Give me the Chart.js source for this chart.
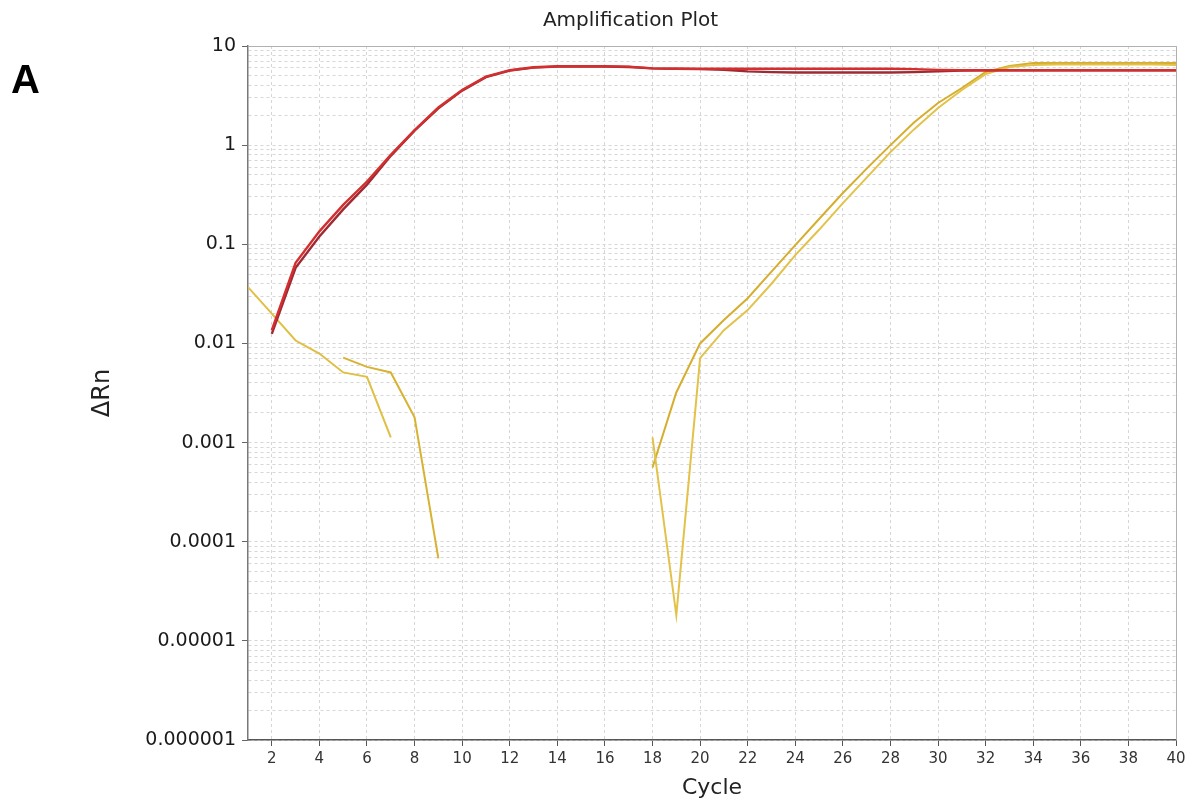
<!DOCTYPE html>
<html>
<head>
<meta charset="utf-8">
<script src="https://cdn.jsdelivr.net/npm/chart.js@4.4.1/dist/chart.umd.min.js"></script>
<style>
  html, body { margin: 0; padding: 0; background: #ffffff; }
  #wrap { position: relative; width: 1200px; height: 807px; }
  #panel { position: absolute; left: 11px; top: 56px; line-height: 46px; font-family: "Liberation Sans", Arial, sans-serif; font-weight: bold; font-size: 40px; color: #000; }
</style>
</head>
<body>
<div id="wrap">
  <canvas id="c" width="1200" height="807"></canvas>
  <div id="panel">A</div>
</div>
<script>
// ---- data ----
const CYCLES = [1,2,3,4,5,6,7,8,9,10,11,12,13,14,15,16,17,18,19,20,21,22,23,24,25,26,27,28,29,30,31,32,33,34,35,36,37,38,39,40];

const RED_1 = [null,0.0136,0.065,0.135,0.25,0.43,0.80,1.42,2.4,3.6,4.9,5.7,6.1,6.25,6.25,6.25,6.2,5.95,5.9,5.9,5.9,5.9,5.9,5.9,5.9,5.9,5.9,5.9,5.85,5.75,5.7,5.7,5.7,5.7,5.7,5.7,5.7,5.7,5.7,5.7];
const RED_2 = [null,0.0125,0.058,0.12,0.225,0.40,0.78,1.40,2.35,3.55,4.85,5.65,6.05,6.2,6.2,6.2,6.15,5.95,5.9,5.85,5.75,5.55,5.45,5.4,5.4,5.4,5.4,5.4,5.45,5.55,5.65,5.7,5.7,5.7,5.7,5.7,5.7,5.7,5.7,5.7];

const YEL_A = [0.037,0.020,0.0107,0.0079,0.0051,0.0046,0.00113,null,null,null,null,null,null,null,null,null,null,null,null,null,null,null,null,null,null,null,null,null,null,null,null,null,null,null,null,null,null,null,null,null];
const YEL_B = [null,null,null,null,0.0072,0.0058,0.0051,0.0018,0.000068,null,null,null,null,null,null,null,null,null,null,null,null,null,null,null,null,null,null,null,null,null,null,null,null,null,null,null,null,null,null,null];
const YEL_C = [null,null,null,null,null,null,null,null,null,null,null,null,null,null,null,null,null,0.00113,0.0000182,0.0071,0.0136,0.0217,0.040,0.0778,0.14,0.26,0.47,0.85,1.45,2.37,3.6,5.2,6.14,6.43,6.5,6.5,6.5,6.5,6.5,6.45];
const YEL_D = [null,null,null,null,null,null,null,null,null,null,null,null,null,null,null,null,null,0.00056,0.0032,0.0100,0.0172,0.0286,0.053,0.098,0.18,0.329,0.58,1.0,1.7,2.66,3.77,5.47,6.28,6.73,6.75,6.75,6.75,6.75,6.75,6.75];

const X_TICK_VALUES = [2,4,6,8,10,12,14,16,18,20,22,24,26,28,30,32,34,36,38,40];
const Y_TICK_VALUES = [0.000001,0.00001,0.0001,0.001,0.01,0.1,1,10];
const Y_TICK_LABELS = ['0.000001','0.00001','0.0001','0.001','0.01','0.1','1','10'];

// ---- build ----
function pts(arr) { return CYCLES.map((c, i) => ({ x: c, y: arr[i] })); }

const yTicks = [];
Y_TICK_VALUES.forEach((v, i) => {
  yTicks.push({ value: v, major: true, label: Y_TICK_LABELS[i] });
  if (i < Y_TICK_VALUES.length - 1) {
    for (let k = 2; k <= 9; k++) yTicks.push({ value: v * k, major: false });
  }
});

const frame = {
  id: 'frame',
  afterDatasetsDraw(chart) {
    const a = chart.chartArea, ctx = chart.ctx;
    ctx.save();
    ctx.strokeStyle = '#b0b0b0';
    ctx.lineWidth = 1;
    ctx.beginPath();
    ctx.moveTo(a.left, a.top + 0.5); ctx.lineTo(a.right + 0.5, a.top + 0.5); ctx.lineTo(a.right + 0.5, a.bottom);
    ctx.stroke();
    ctx.restore();
  }
};

const ds = (label, data, color, w) => ({
  label, data: pts(data), borderColor: color, backgroundColor: color,
  borderWidth: w, pointRadius: 0, tension: 0, spanGaps: false, fill: false
});

new Chart(document.getElementById('c'), {
  type: 'line',
  data: {
    datasets: [
      ds('Red 1', RED_1, '#d32f2f', 2.4),
      ds('Red 2', RED_2, '#9e2a33', 2.4),
      ds('Yellow A', YEL_A, '#e0bf45', 2),
      ds('Yellow B', YEL_B, '#d8b232', 2),
      ds('Yellow C', YEL_C, '#e3c24a', 2),
      ds('Yellow D', YEL_D, '#d6ad2c', 2)
    ]
  },
  options: {
    responsive: false,
    animation: false,
    devicePixelRatio: 1,
    layout: { padding: { left: 85, right: 24, top: 6, bottom: 2 } },
    plugins: {
      legend: { display: false },
      tooltip: { enabled: false },
      title: {
        display: true, text: 'Amplification Plot', color: '#222',
        font: { family: 'DejaVu Sans', size: 20, weight: 'normal' },
        padding: { top: 3, bottom: 13 }
      }
    },
    scales: {
      x: {
        type: 'linear', min: 1, max: 40,
        afterBuildTicks: (s) => { s.ticks = X_TICK_VALUES.map(v => ({ value: v })); },
        afterFit: (s) => { s.height = 65; },
        ticks: { color: '#333', font: { family: 'DejaVu Sans', size: 15 }, padding: 4, maxRotation: 0, autoSkip: false },
        grid: { color: '#d6d6d6', tickColor: '#555', tickLength: 6, lineWidth: 1 },
        border: { color: '#555', width: 1.5, dash: [3, 3] },
        title: { display: true, text: 'Cycle', color: '#222', font: { family: 'DejaVu Sans', size: 22 }, padding: { top: 2, bottom: 4 } }
      },
      y: {
        type: 'logarithmic', min: 0.000001, max: 10,
        afterBuildTicks: (s) => { s.ticks = yTicks.map(t => ({ value: t.value, major: t.major, lbl: t.label })); },
        afterFit: (s) => { s.width = 163; },
        ticks: {
          color: '#1a1a1a', font: { family: 'DejaVu Sans', size: 19 }, padding: 6, autoSkip: false,
          callback: function (v, i, ticks) { return ticks[i].lbl || ''; }
        },
        grid: {
          color: '#d6d6d6', lineWidth: 1, tickLength: 6,
          tickColor: (c) => (c.tick && c.tick.major ? '#666' : 'rgba(0,0,0,0)')
        },
        border: { color: '#777', width: 1.5, dash: [3, 3] },
        title: { display: true, text: 'ΔRn', color: '#222', font: { family: 'DejaVu Sans', size: 24 }, padding: { top: 3, bottom: 4 } }
      }
    }
  },
  plugins: [frame]
});
</script>
</body>
</html>
